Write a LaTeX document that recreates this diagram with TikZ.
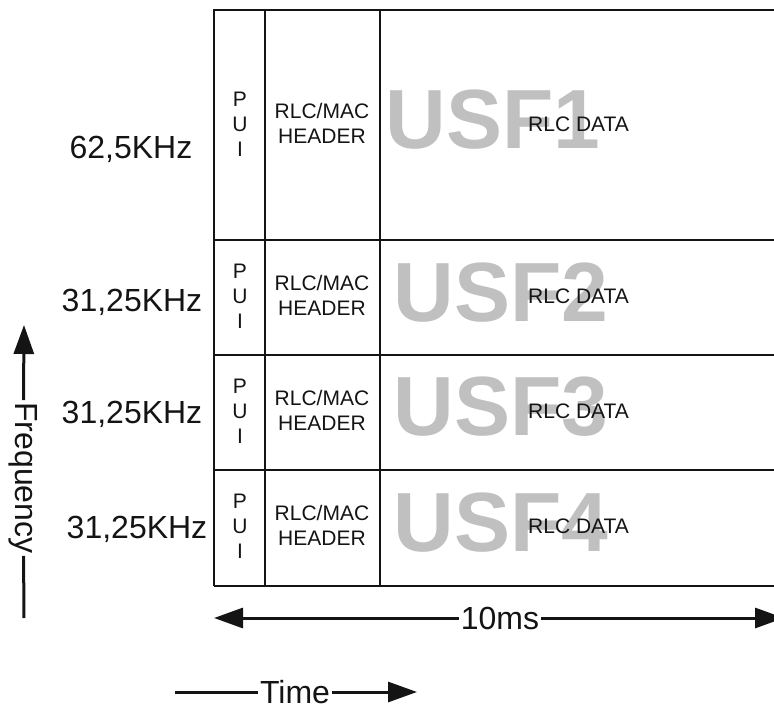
\documentclass[tikz,border=0pt]{standalone}
\usepackage{fontspec}
\setmainfont{Liberation Sans}
\usetikzlibrary{arrows.meta}
\definecolor{cEdge}{RGB}{20,20,20}
\definecolor{cMark}{RGB}{192,192,192}

\begin{document}
\begin{tikzpicture}[
  x=1pt, y=-1pt, color=cEdge,
  grid/.style={line width=1.5pt, draw=cEdge},
  lbl/.style ={font=\fontsize{32}{38}\selectfont, inner sep=2pt},
  cell/.style={font=\fontsize{21}{25}\selectfont, align=center, inner sep=0pt},
  usf/.style ={font=\fontsize{84}{90}\selectfont\bfseries, text=cMark, inner sep=0pt},
  axis/.style={line width=3pt},
  tip/.style ={-{Triangle[length=29pt,width=20pt]}, line width=3pt},
]
\useasboundingbox (0,0) rectangle (774,706);

% columns: 214 / 265 / 380 / 774
% rows:    10 / 240 / 355 / 470 / 586
\draw[grid] (214,586) -- (214,10) -- (774,10);
\foreach \y in {240,355,470,586} \draw[grid] (214,\y) -- (774,\y);
\draw[grid] (265,10) -- (265,586);
\draw[grid] (380,10) -- (380,586);

% ----- big grey marks, under the data text ---------------------------
\node[usf] (usf1) at (493,120) {USF1};
\node[usf] (usf2) at (501,293) {USF2};
\node[usf] (usf3) at (501,407) {USF3};
\node[usf] (usf4) at (501,523) {USF4};

% ----- one burst per row ---------------------------------------------
\foreach \i/\yc in {1/125,2/297,3/412,4/527} {
  \node[cell] (pui\i)  at (240,\yc-1) {P\\U\\I};
  \node[cell] (hdr\i)  at (322,\yc-2) {RLC/MAC\\HEADER};
  \node[cell,anchor=west] (data\i) at (528,\yc-1) {RLC DATA};
}

% ----- carrier widths ------------------------------------------------
\node[lbl] (f1) at (131,149) {62,5KHz};
\node[lbl] (f2) at (132,302) {31,25KHz};
\node[lbl] (f3) at (132,414) {31,25KHz};
\node[lbl] (f4) at (137,529) {31,25KHz};

% ----- frequency axis ------------------------------------------------
\coordinate (fbot) at (24,618);
\coordinate (ftop) at (24,325);
\node[lbl,rotate=-90] (freq) at (23,478) {Frequency};
\draw[axis] (fbot) -- (freq);
\draw[tip]  (freq) -- (ftop);

% ----- block length --------------------------------------------------
\coordinate (mleft)  at (214,618);
\coordinate (mright) at (784,618);
\node[lbl] (span) at (500,618) {10ms};
\draw[tip] (span) -- (mleft);
\draw[tip] (span) -- (mright);

% ----- time axis -----------------------------------------------------
\coordinate (tbeg) at (175,692);
\coordinate (tend) at (417,692);
\node[lbl] (time) at (295,692) {Time};
\draw[axis] (tbeg) -- (time);
\draw[tip]  (time) -- (tend);

\end{tikzpicture}
\end{document}
